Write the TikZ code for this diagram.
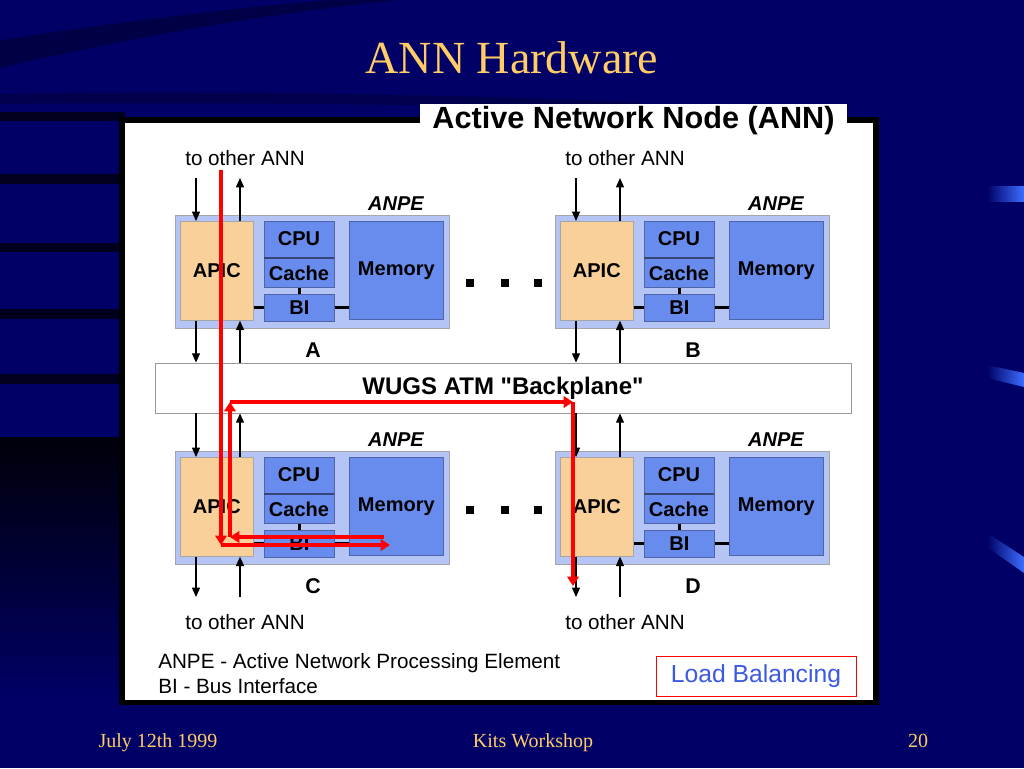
\documentclass[tikz,border=0pt]{standalone}
\usepackage{fontspec}
\setmainfont{Liberation Serif}
\newfontfamily\arial{Liberation Sans}
\usetikzlibrary{arrows.meta}
\newlength\px \setlength\px{0.75pt}
\definecolor{navy}{RGB}{0,0,102}
\definecolor{anpebg}{RGB}{180,196,245}
\definecolor{boxblue}{RGB}{104,140,238}
\definecolor{boxline}{RGB}{80,100,170}
\definecolor{peach}{RGB}{249,208,154}
\definecolor{gold}{RGB}{255,204,102}
\definecolor{lbblue}{RGB}{60,90,225}
\definecolor{dashblue}{RGB}{60,110,255}
\tikzset{
  outerbox/.style={fill=anpebg, draw=black!35, line width=0.6pt, minimum width=274\px, minimum height=113\px, inner sep=0, anchor=north west},
  apicbox/.style={fill=peach, draw=black!35, line width=0.5pt, minimum width=73\px, minimum height=99\px, inner sep=0, anchor=north west, font=\arial\bfseries\fontsize{15pt}{15pt}\selectfont},
  cbox/.style={fill=boxblue, draw=boxline, line width=0.5pt, inner sep=0, anchor=north west, font=\arial\bfseries\fontsize{15pt}{15pt}\selectfont},
  lbl/.style={inner sep=0, font=\arial\bfseries\fontsize{15pt}{15pt}\selectfont},
  anpelbl/.style={inner sep=0, font=\arial\bfseries\itshape\fontsize{15pt}{15pt}\selectfont},
  letterlbl/.style={inner sep=0, font=\arial\bfseries\fontsize{16pt}{16pt}\selectfont},
  linkline/.style={line width=2.2pt},
  toann/.style={inner sep=0, font=\arial\fontsize{15.5pt}{16pt}\selectfont},
  arr/.style={line width=0.9pt, -{Triangle[length=7pt,width=6pt]}},
  rarr/.style={draw=red, line width=3pt, -{Triangle[length=7pt,width=8.5pt]}},
  dotsq/.style={fill=black, minimum size=8\px, inner sep=0},
  foot/.style={text=gold, inner sep=0, font=\fontsize{15pt}{15pt}\selectfont},
}
\newcommand\anpeblock[4]{%
\begin{scope}[shift={(#2,#3)}]
  \node[outerbox] (#1o) at (0,0) {};
  \node[apicbox] (#1apic) at (5,6) {APIC};
  \node[cbox, minimum width=70\px, minimum height=66\px] (#1cc) at (89,6) {};
  \node[lbl] (#1cpu) at (124,24) {CPU};
  \node[lbl] (#1cache) at (124,58) {Cache};
  \draw[boxline!70!black, line width=1.2pt] (89,43) -- (159,43);
  \node[cbox, minimum width=70\px, minimum height=27\px] (#1bi) at (89,79) {BI};
  \node[cbox, minimum width=94\px, minimum height=98\px] (#1mem) at (174,6) {Memory};
  \draw[linkline] (#1apic.east |- #1bi) -- (#1bi.west);
  \draw[linkline] (#1bi.east) -- (#1mem.west |- #1bi);
  \draw[linkline] (#1cc.south) -- (#1bi.north);
  \node[anpelbl] (#1lab) at (221,-11) {ANPE};
  \node[letterlbl] (#1let) at (138,135) {#4};
\end{scope}}
\begin{document}
\begin{tikzpicture}[x=0.75pt,y=-0.75pt]
\useasboundingbox (0,0) rectangle (1024,768);
% background
\fill[navy] (0,0) rectangle (1024,768);
\fill[black, opacity=0.3] (0,40) .. controls (120,22) and (230,8) .. (330,0) -- (400,0) .. controls (260,14) and (120,40) .. (0,68) -- cycle;
\fill[black, opacity=0.25] (0,94) .. controls (200,90) and (420,94) .. (640,102) -- (640,110) .. controls (420,104) and (200,102) .. (0,104) -- cycle;
\foreach \ya/\yb in {112/121,174/184,243/252,309/319,374/384}
  \fill[black, opacity=0.7] (0,\ya) rectangle (125,\yb);
\shade[top color=black, bottom color=navy, opacity=0.9] (0,437) rectangle (125,700);
\shade[left color=navy, right color=dashblue] (987,186) rectangle (1024,201);
\shade[left color=navy, right color=dashblue] (987,365) -- (1024,373) -- (1024,387) -- (987,378) -- cycle;
\shade[left color=navy, right color=dashblue] (987,533) -- (1024,557) -- (1024,573) -- (987,547) -- cycle;
% title
\node[text=gold, inner sep=0, font=\fontsize{34.5pt}{36pt}\selectfont] (title) at (512,58) {ANN Hardware};
% panel
\fill[black] (119,117) rectangle (879,705);
\fill[white] (125,123) rectangle (873,700);
\fill[white] (420,104) rectangle (847,133);
\node[inner sep=0, font=\arial\bfseries\fontsize{23pt}{23pt}\selectfont] (anntitle) at (633.5,121) {Active Network Node (ANN)};
% to other ANN
\node[toann] (ta) at (245,158) {to other ANN};
\node[toann] (tb) at (625,158) {to other ANN};
\node[toann] (tc) at (245,622) {to other ANN};
\node[toann] (td) at (625,622) {to other ANN};
% backplane
\node[draw=black!40, fill=white, line width=0.6pt, minimum width=696\px, minimum height=50\px, inner sep=0, font=\arial\bfseries\fontsize{18pt}{18pt}\selectfont] (bp) at (503,388) {WUGS ATM "Backplane"};
% blocks
\anpeblock{A}{175}{215}{A}
\anpeblock{B}{555}{215}{B}
\anpeblock{C}{175}{451}{C}
\anpeblock{D}{555}{451}{D}
% dots
\node[dotsq] (d1) at (470,283) {};
\node[dotsq] (d2) at (505,283) {};
\node[dotsq] (d3) at (538,283) {};
\node[dotsq] (d4) at (470,510) {};
\node[dotsq] (d5) at (505,510) {};
\node[dotsq] (d6) at (538,510) {};
% black arrows
\coordinate (ia) at (196,178); \coordinate (oa) at (240,178);
\coordinate (ib) at (576,178); \coordinate (ob) at (620,178);
\coordinate (ic) at (196,597); \coordinate (oc) at (240,597);
\coordinate (id) at (576,597); \coordinate (od) at (620,597);
\draw[arr] (ia) -- (ia |- Aapic.north);
\draw[arr] (oa |- Aapic.north) -- (oa);
\draw[arr] (ib) -- (ib |- Bapic.north);
\draw[arr] (ob |- Bapic.north) -- (ob);
\draw[arr] (ia |- Aapic.south) -- (ia |- bp.north);
\draw[arr] (oa |- bp.north) -- (oa |- Aapic.south);
\draw[arr] (ib |- Bapic.south) -- (ib |- bp.north);
\draw[arr] (ob |- bp.north) -- (ob |- Bapic.south);
\draw[arr] (ia |- bp.south) -- (ia |- Capic.north);
\draw[arr] (oa |- Capic.north) -- (oa |- bp.south);
\draw[arr] (ib |- bp.south) -- (ib |- Dapic.north);
\draw[arr] (ob |- Dapic.north) -- (ob |- bp.south);
\draw[arr] (ic |- Capic.south) -- (ic);
\draw[arr] (oc) -- (oc |- Capic.south);
\draw[arr] (id |- Dapic.south) -- (id);
\draw[arr] (od) -- (od |- Dapic.south);
% red path
\coordinate (r0) at (221,170);
\coordinate (r1) at (221,545);
\coordinate (r2) at (390,545);
\coordinate (r3) at (384,537);
\coordinate (r4) at (230,537);
\coordinate (r5) at (230,402);
\coordinate (r6) at (573,402);
\coordinate (r7) at (573,586);
\draw[rarr] (r0) -- (r1);
\draw[rarr] (r1) -- (r2);
\draw[rarr] (r3) -- (r4);
\draw[rarr] (r4) -- (r5);
\draw[rarr] (r5) -- (r6);
\draw[rarr] (r6) -- (r7);
% legend
\node[toann, anchor=west] (leg1) at (158,663) {ANPE - Active Network Processing Element};
\node[toann, anchor=west] (leg2) at (158,686) {BI - Bus Interface};
\node[draw=red, line width=0.6pt, text=lbblue, minimum width=200\px, minimum height=40\px, inner sep=0, font=\arial\fontsize{18.5pt}{19pt}\selectfont] (lb) at (756,676) {Load Balancing};
% footer
\node[foot] (date) at (158,743) {July 12th 1999};
\node[foot] (ws) at (533,743) {Kits Workshop};
\node[foot] (pg) at (918,741) {20};
\end{tikzpicture}
\end{document}
